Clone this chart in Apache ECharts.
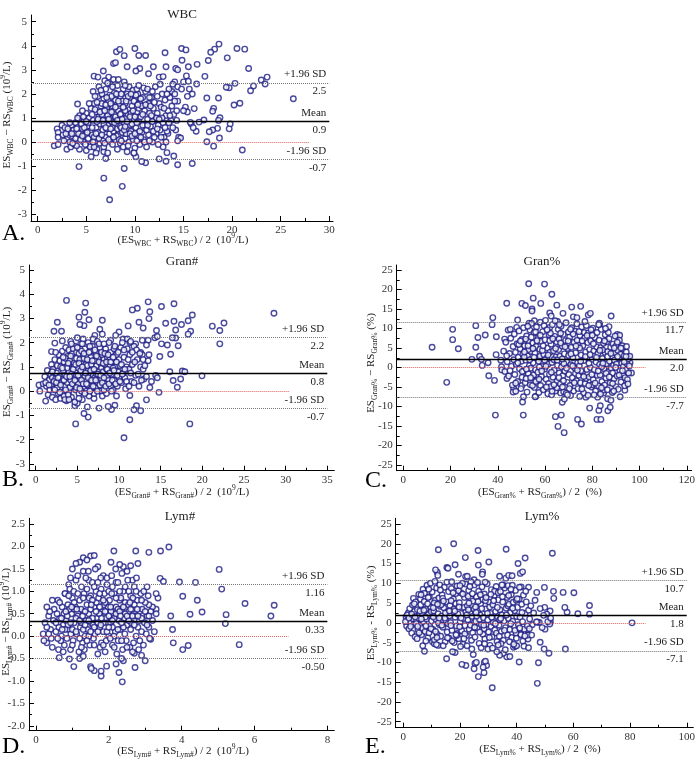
<!DOCTYPE html>
<html><head><meta charset="utf-8">
<script src="https://cdn.jsdelivr.net/npm/echarts@6/dist/echarts.min.js"></script>
<style>html,body{margin:0;padding:0;background:#fff}#c{width:698px;height:768px}</style>
</head><body><div id="c"></div>
<script>
// ---------------- DATA ----------------
// A. WBC : [mean of methods, difference]
const wbcPoints = [
[26.3,1.8],[23.6,2.7],[23.0,2.58],[23.4,2.41],[22.2,2.33],[21.9,2.13],[21.7,3.06],[21.3,3.86],[20.5,3.89],[20.3,2.44],[20.8,1.61],[20.2,1.54],[19.5,3.5],[19.7,2.26],[19.4,2.28],[18.65,4.07],[18.2,3.86],[17.8,3.73],[17.55,3.39],[16.4,3.23],[18.6,1.83],[17.4,1.83],[17.2,2.73],[16.35,2.41],[18.1,1.4],[18.0,1.28],[18.75,1.01],[18.6,0.9],[19.8,0.75],[19.7,0.55],[18.5,0.57],[18.0,0.5],[17.65,0.43],[18.7,0.17],[17.4,0.01],[18.1,-0.17],[21.05,-0.33],[17.1,0.92],[16.6,0.83],[16.3,0.45],[15.8,0.75],[16.0,0.6],[16.1,1.39],[15.7,0.82],[15.9,-0.89],[14.4,-0.94],[14.0,-0.58],[13.2,-0.8],[12.5,-0.7],[13.3,-0.44],[11.1,-0.86],[10.7,-0.81],[10.1,-0.61],[9.9,-0.45],[8.9,-1.1],[8.7,-1.84],[6.8,-1.5],[7.4,-2.4],[4.25,-1.02],[5.5,-0.61],[7.0,-0.68],[6.8,-0.4],[1.7,-0.15],[2.1,-0.1],[4.1,1.58],[2.0,0.55],[2.1,0.4],[2.1,0.2],[2.5,0.7],[3.0,-0.3],
[5.8,2.74],[6.2,2.7],[6.75,2.95],[7.3,2.7],[7.8,3.26],[8.0,3.3],[8.1,3.75],[8.45,3.85],[8.9,3.59],[9.2,3.13],[10.0,3.89],[10.4,3.6],[11.1,3.6],[10.5,3.06],[10.1,2.95],[11.4,2.84],[11.9,3.13],[13.1,3.71],[13.2,3.13],[14.2,3.06],[14.4,3.0],[14.8,3.89],[15.25,3.83],[14.85,3.4],[15.5,3.13],[15.3,2.75],[15.0,2.5],[15.5,2.53],[12.5,2.7],[12.9,2.72],[14.1,2.5],[14.4,2.3],[13.8,2.1],[14.8,2.2],[15.6,2.2],[15.9,2.0],[15.4,1.9],[15.2,1.45],[15.4,1.25],[15.0,1.3],[14.3,0.9],[14.5,0.2],[14.7,0.17],[14.4,0.05],[13.4,0.36],[12.9,-0.2],
[2.6,0.3],[2.8,0.6],[3.0,0.1],[3.2,0.45],[3.4,-0.2],[3.5,0.7],[2.9,0.35],[3.3,0.0],[3.6,0.25],[3.1,0.55],
[3.7,0.5],[3.8,-0.1],[3.9,0.8],[4.0,0.2],[4.1,0.6],[4.2,0.95],[4.3,-0.3],[4.4,0.4],[3.8,0.35],[4.0,-0.15],[4.5,0.1],[4.5,0.75],[4.3,1.1],
[4.6,0.55],[4.7,0.0],[4.8,0.9],[4.9,0.3],[5.0,1.2],[5.0,-0.35],[5.1,0.65],[5.2,0.15],[5.3,1.0],[5.4,0.45],[5.5,1.4],[5.5,-0.1],[4.8,0.6],[5.2,0.8],[4.7,1.05],[5.4,-0.2],
[5.6,0.3],[5.7,0.9],[5.8,1.6],[5.9,0.05],[6.0,1.25],[6.0,0.6],[6.1,-0.3],[6.2,1.9],[6.2,0.4],[6.3,1.05],[6.4,0.75],[6.4,-0.05],[6.5,1.5],[5.7,2.1],[5.8,0.2],[6.1,0.85],[6.3,2.3],[6.5,0.25],[5.9,1.35],[6.0,-0.45],
[6.6,1.15],[6.7,0.5],[6.8,1.8],[6.8,-0.2],[6.9,0.9],[7.0,2.2],[7.0,0.2],[7.1,1.4],[7.2,0.7],[7.2,-0.45],[7.3,1.7],[7.4,0.35],[7.4,1.0],[7.5,2.4],[6.6,1.6],[6.7,0.05],[6.9,2.55],[7.1,0.55],[7.3,1.25],[7.5,0.0],[6.8,0.75],[7.0,1.55],[7.4,1.95],[7.2,1.1],
[7.6,0.85],[7.7,1.5],[7.7,-0.1],[7.8,0.45],[7.9,2.05],[7.9,1.15],[8.0,0.1],[8.0,1.75],[8.1,0.7],[8.2,2.35],[8.2,-0.3],[8.3,1.3],[8.3,0.3],[8.4,0.95],[8.5,1.9],[8.5,-0.05],[7.6,1.9],[7.8,2.6],[8.1,0.25],[8.4,1.6],[7.7,0.6],[8.0,1.05],[8.2,0.55],[8.5,0.65],
[8.6,1.2],[8.7,0.4],[8.8,2.2],[8.8,-0.2],[8.9,0.8],[9.0,1.6],[9.0,0.15],[9.1,1.0],[9.2,2.0],[9.2,-0.4],[9.3,0.55],[9.4,1.35],[9.4,0.0],[9.5,1.85],[8.7,1.7],[8.9,2.5],[9.1,0.35],[9.3,1.15],[9.5,0.7],[8.6,0.6],[9.0,1.3],[9.4,2.3],
[9.6,0.45],[9.7,1.5],[9.8,2.15],[9.8,0.1],[9.9,0.95],[10.0,1.75],[10.0,-0.25],[10.1,0.6],[10.2,1.25],[10.3,2.0],[10.3,0.3],[10.4,0.85],[10.5,1.6],[10.5,-0.1],[9.7,0.75],[10.1,1.95],[10.4,1.4],[9.9,-0.45],[10.2,0.05],[9.6,1.2],
[10.6,1.05],[10.7,0.4],[10.8,1.85],[10.9,0.1],[11.0,1.3],[11.0,0.7],[11.1,2.1],[11.2,-0.2],[11.3,0.95],[11.4,1.6],[11.4,0.3],[11.5,1.2],[10.7,1.5],[11.2,0.5],[10.9,2.25],
[11.6,0.65],[11.7,1.85],[11.8,0.0],[11.9,1.4],[12.0,0.9],[12.1,2.3],[12.2,0.35],[12.3,1.2],[12.4,-0.1],[12.5,1.6],[11.9,0.45],[12.2,1.0],[12.4,0.7],[11.7,1.1],
[12.6,0.5],[12.7,1.45],[12.8,2.0],[12.9,0.8],[13.0,0.2],[13.1,1.75],[13.2,1.1],[13.3,0.45],[13.4,1.3],[13.5,2.2],[12.8,1.0],[13.1,0.6],
[13.6,1.85],[13.7,0.9],[13.8,1.5],[14.0,1.15],[14.1,2.0],[14.2,0.5],[14.4,1.7],[13.9,2.4],[14.3,1.3],
[3.3,0.8],[3.6,-0.05],[3.9,0.15],[4.1,1.0],[4.4,0.1],[4.6,1.3],[4.9,-0.1],[5.1,0.4],[5.3,1.6],[5.6,0.6],[5.6,1.15],[5.8,-0.2],[6.0,0.35],[6.1,1.65],[6.3,0.15],[6.4,1.25],[6.6,0.3],[6.6,2.0],[6.7,0.9],[6.9,1.3],[6.9,-0.05],[7.0,0.6],[7.1,1.85],[7.3,0.1],[7.3,0.95],[7.5,1.6],[7.5,0.55],[7.6,1.25],[7.7,2.3],[7.8,0.2],[7.9,0.8],[8.0,1.45],[8.1,2.0],[8.2,0.9],[8.3,1.7],[8.4,0.1],[8.5,1.15],[8.6,2.0],[8.6,0.05],[8.7,0.95],[8.8,1.45],[8.9,0.5],[9.0,0.65],[9.1,1.7],[9.2,0.85],[9.3,1.9],[9.3,-0.15],[9.5,1.05],[9.5,0.35],[9.6,2.0],[9.7,0.25],[9.8,1.3],[9.9,1.7],[10.0,0.35],[10.0,1.05],[10.2,2.2],[10.2,0.8],[10.3,1.55],[10.5,0.45],[10.6,1.8],[10.6,0.2],[10.8,1.15],[10.8,0.7],[11.0,0.0],[11.1,1.55],[11.3,2.2],[11.3,0.7],[11.5,0.05],[11.6,1.5],[11.8,0.85],[11.8,2.1],[12.0,0.2],[12.0,1.65],[12.3,0.55],[12.3,1.9],[12.5,0.95],[12.6,2.4],[12.7,0.2],[13.0,1.4],[13.2,0.0],[13.3,2.0],[13.5,0.8],[13.6,1.1],[13.9,0.6],[14.1,1.7],[11.5,1.85],[10.4,2.35],[9.0,2.35],[8.3,2.6],[7.2,2.45],[6.5,2.15],[5.9,1.9],[5.0,0.85],[4.2,0.35],[3.5,0.35],[2.7,0.05],[4.0,0.55],[4.6,0.25],[5.7,0.0],[6.2,0.95]
];
const wbcLimits = [2.45, 0.87, -0.71];          // +1.96 SD, mean, -1.96 SD
const wbcLimitLabels = ['2.5', '0.9', '-0.7'];
const wbcXTicks = [0, 5, 10, 15, 20, 25, 30];
const wbcYTicks = [-3, -2, -1, 0, 1, 2, 3, 4, 5];

// B. Gran#
const granAbsPoints = [
[28.6,3.21],[22.6,2.81],[21.2,2.68],[22.1,2.5],[22.1,1.95],[19.96,0.63],[18.8,3.14],[18.3,2.9],[18.6,2.47],[18.3,2.35],[17.5,2.75],[16.6,3.6],[15.1,3.49],[13.5,3.68],[13.7,3.27],[12.2,3.42],[11.6,3.35],[13.6,2.99],[11.1,2.69],[12.4,2.84],[12.9,2.6],[15.6,2.8],[16.6,2.88],[16.8,2.52],[16.8,2.19],[16.4,2.2],[17.1,1.87],[16.2,1.52],[15.8,1.9],[16.1,0.8],[17.6,0.83],[17.9,0.8],[17.4,0.5],[16.5,0.44],[17.0,0.16],[18.5,-1.35],[14.9,1.43],[14.4,0.65],[14.6,0.55],[14.8,-0.05],[13.7,0.15],[13.9,0.4],[13.3,-0.36],[12.6,-0.81],[12.1,-0.6],[11.8,-0.77],[11.3,-1.18],[11.3,-0.18],[10.6,-1.92],[9.5,-0.58],[9.1,-0.76],[8.7,-0.63],[7.6,-0.7],[7.0,-0.3],[6.3,-1.07],[6.2,-0.65],[5.8,-0.92],[4.8,-1.35],[4.7,-0.6],[5.0,-0.5],[1.2,-0.41],[0.4,0.25],[0.5,0.0],[0.9,0.3],
[3.7,3.74],[2.6,2.84],[2.2,2.47],[3.1,2.47],[2.3,1.98],[1.9,1.63],[3.2,2.07],[6.0,3.63],[5.9,3.25],[5.2,3.05],[6.4,2.94],[5.8,2.7],[5.3,2.75],[8.0,2.92],[7.7,2.55],[8.0,2.35],[7.1,2.3],[6.9,2.15],[10.0,2.44],[9.6,2.3],[9.0,2.1],[10.5,2.15],[11.0,2.15],[11.3,2.0],[12.8,2.1],[13.5,2.1],[14.3,2.2],[14.6,2.25],[15.1,1.95],[14.5,2.5],[12.0,1.95],[12.6,1.6],[13.3,1.9],[13.6,1.5],
[1.1,0.6],[1.3,0.2],[1.4,0.85],[1.5,-0.15],[1.6,0.45],[1.7,0.05],[1.8,0.7],[1.9,1.1],[2.0,-0.25],[1.2,0.35],[1.9,0.25],[2.0,0.55],
[2.1,0.9],[2.2,0.1],[2.3,1.3],[2.4,-0.35],[2.4,0.5],[2.5,0.75],[2.6,1.05],[2.7,-0.1],[2.8,0.3],[2.8,1.5],[2.9,0.6],[3.0,1.0],[3.0,-0.3],[2.2,0.4],[2.6,0.15],[2.9,1.25],
[3.1,0.4],[3.2,1.65],[3.2,-0.05],[3.3,0.85],[3.4,1.2],[3.5,0.2],[3.5,0.65],[3.6,1.8],[3.7,-0.4],[3.7,1.0],[3.8,0.35],[3.9,1.45],[4.0,0.0],[4.0,0.8],[3.3,0.5],[3.6,1.35],[3.9,0.55],[3.4,-0.2],[4.0,1.7],[3.8,0.95],
[4.1,1.25],[4.2,0.45],[4.2,2.05],[4.3,-0.25],[4.4,0.95],[4.4,1.55],[4.5,0.2],[4.6,1.15],[4.6,0.6],[4.7,1.85],[4.8,0.05],[4.8,0.85],[4.9,1.35],[5.0,0.4],[5.0,2.2],[4.3,0.7],[4.5,1.75],[4.7,-0.45],[4.9,0.65],[4.1,0.15],[4.6,1.0],[4.9,1.6],
[5.1,0.95],[5.2,1.55],[5.2,-0.1],[5.3,0.55],[5.4,1.95],[5.4,0.25],[5.5,1.2],[5.6,0.75],[5.6,-0.35],[5.7,1.45],[5.8,0.1],[5.8,0.9],[5.9,1.75],[6.0,0.45],[6.0,1.1],[5.1,0.3],[5.3,1.3],[5.5,0.0],[5.7,2.15],[5.9,0.6],[5.5,1.65],[5.8,1.35],
[6.1,1.5],[6.2,0.25],[6.3,0.85],[6.3,2.0],[6.4,-0.2],[6.5,1.2],[6.5,0.55],[6.6,1.65],[6.7,0.1],[6.8,0.9],[6.8,1.85],[6.9,0.4],[7.0,1.3],[7.0,-0.1],[6.2,1.05],[6.4,0.7],[6.6,1.4],[6.9,0.65],[6.1,0.0],[6.7,1.1],
[7.1,0.55],[7.2,1.6],[7.2,0.15],[7.3,1.05],[7.4,2.05],[7.5,0.35],[7.5,1.35],[7.6,0.8],[7.7,1.8],[7.8,0.0],[7.8,1.15],[7.9,0.5],[8.0,1.5],[8.0,-0.2],[7.3,0.7],[7.6,1.95],[7.9,0.95],[7.1,1.25],
[8.1,0.8],[8.2,1.3],[8.3,0.3],[8.4,1.75],[8.5,0.9],[8.5,-0.1],[8.6,1.4],[8.7,0.5],[8.8,2.0],[8.9,1.05],[9.0,0.2],[9.0,1.6],[8.2,0.05],[8.6,0.65],[8.9,1.3],[8.3,1.1],
[9.1,0.7],[9.2,1.2],[9.3,0.05],[9.4,1.75],[9.5,0.45],[9.6,1.0],[9.7,1.5],[9.8,0.2],[9.9,0.8],[10.0,1.3],[9.3,0.95],[9.7,-0.2],[10.0,0.55],
[10.1,1.05],[10.2,1.8],[10.3,0.35],[10.5,0.75],[10.6,1.4],[10.8,0.1],[10.9,1.0],[11.0,1.75],[10.4,2.0],[10.7,0.55],
[11.2,0.9],[11.3,1.5],[11.5,0.4],[11.6,1.1],[11.8,1.85],[12.0,0.65],[12.2,1.3],[12.4,0.2],[12.6,1.0],[12.8,1.5],[13.0,0.5],[12.1,1.7],[11.4,2.05],[12.9,0.9],
[1.6,0.25],[2.0,0.8],[2.3,0.05],[2.5,0.35],[2.7,0.55],[2.9,-0.05],[3.0,0.25],[3.2,0.95],[3.4,0.45],[3.6,0.05],[3.7,0.6],[3.9,1.15],[3.9,-0.15],[4.1,0.6],[4.2,1.45],[4.4,0.3],[4.5,0.9],[4.7,0.45],[4.8,1.1],[4.9,0.15],[5.1,0.65],[5.2,1.15],[5.3,0.1],[5.4,0.85],[5.5,0.45],[5.6,1.0],[5.7,0.3],[5.8,1.55],[5.9,-0.1],[6.0,0.75],[6.1,0.3],[6.2,1.3],[6.3,0.55],[6.4,1.6],[6.5,0.0],[6.6,0.85],[6.7,0.45],[6.8,1.25],[6.9,0.2],[7.0,0.9],[7.1,1.7],[7.2,0.45],[7.3,1.45],[7.4,0.0],[7.5,0.7],[7.6,1.2],[7.7,0.25],[7.8,0.65],[7.9,1.6],[8.0,0.35],[8.1,1.15],[8.2,0.55],[8.3,1.55],[8.4,0.2],[8.5,1.2],[8.6,0.9],[8.7,1.5],[8.8,0.3],[8.9,0.75],[9.0,1.2],[9.1,0.0],[9.2,0.45],[9.3,1.4],[9.4,0.85],[9.6,0.3],[9.7,1.2],[9.8,0.65],[9.9,1.6],[10.1,0.4],[10.3,1.1],[10.4,0.7],[10.6,1.7],[10.7,0.9],[10.9,0.4],[11.1,1.3],[11.2,0.2],[11.4,0.75],[11.6,1.6],[11.8,0.35],[11.9,1.2],[12.3,0.7],[12.5,1.55],[12.7,0.45],[12.9,1.3],[13.1,1.05],[13.3,0.6],[13.5,1.25],[2.4,1.6],[3.3,1.4],[3.5,-0.35],[4.3,1.95],[5.0,1.8],[5.6,1.95],[6.5,1.85],[8.2,1.95],[9.5,1.85],[4.0,-0.35],[5.2,-0.3]
];
const granAbsLimits = [2.21, 0.74, -0.70];
const granAbsLimitLabels = ['2.2', '0.8', '-0.7'];
const granAbsXTicks = [0, 5, 10, 15, 20, 25, 30, 35];
const granAbsYTicks = [-3, -2, -1, 0, 1, 2, 3, 4, 5];

// C. Gran%
const granPctPoints = [
[12.2,5.2],[18.4,-3.8],[20.9,9.8],[20.9,7.15],[23.3,4.8],[29.05,2.1],[30.7,10.75],[30.7,5.2],[31.6,7.7],[32.3,2.9],[33.1,2.1],[33.4,0.55],[34.7,8.33],[35.9,1.24],[36.2,-2.1],[37.9,12.8],[37.6,11.0],[38.6,-3.3],[39.4,7.9],[39.3,3.3],[39.0,-12.2],[41.3,1.9],[41.6,0.2],[41.7,-0.6],[42.9,7.3],[43.8,16.5],[44.4,9.6],[43.9,-2.8],[45.3,9.8],[46.7,-5.3],[46.5,-6.3],[47.6,-6.1],[48.4,12.2],[48.0,10.3],[50.2,16.45],[50.8,-12.2],[50.5,-8.85],[50.9,-7.5],[50.2,-4.6],[51.7,15.9],[53.1,21.5],[55.0,17.8],[54.5,15.0],[54.5,14.5],[53.3,11.4],[55.5,12.0],[56.1,-7.4],[58.2,16.45],[59.8,21.4],[62.9,18.8],[62.0,14.0],[62.6,13.2],[65.0,16.0],[65.3,11.8],[67.6,13.9],[71.3,15.5],[75.1,15.7],[72.0,13.0],[73.5,12.8],[78.3,13.5],[79.2,13.9],[88.0,13.2],[83.0,11.4],[83.1,10.9],[87.1,10.5],[90.6,8.5],[91.6,8.3],[64.4,-12.6],[65.5,-15.1],[66.9,-12.2],[68.1,-16.7],[73.8,-13.3],[75.4,-14.5],[82.0,-13.3],[83.65,-13.3],[78.9,-10.4],[82.8,-11.0],[83.4,-9.8],[86.6,-11.1],[87.6,-10.2],[86.5,-8.0],[82.3,-7.6],[84.8,-6.5],[77.3,-7.6],[67.3,-8.9],[66.6,-6.5],[68.2,-8.1],[55.8,-7.5],[96.6,-1.4],[95.0,2.7],[94.0,-4.6],[93.8,-5.8],[96.0,1.2],
[42.5,4.2],[43.0,-1.0],[43.4,6.5],[44.0,1.5],[44.6,-2.2],[45.0,3.6],[45.5,7.5],[45.8,0.3],[46.2,-4.5],[46.5,5.4],[46.8,2.0],[43.8,3.0],[45.2,-0.8],
[47.0,8.6],[47.2,-1.8],[47.5,3.9],[47.9,0.8],[48.2,6.1],[48.4,-3.6],[48.7,2.6],[49.0,9.4],[49.2,-0.3],[49.5,4.8],[49.8,-5.4],[50.0,1.6],[50.2,7.2],[47.6,-4.0],[48.9,5.9],[50.3,-2.5],
[50.6,3.4],[50.9,10.2],[51.1,-0.9],[51.4,5.6],[51.6,-3.9],[51.9,1.9],[52.2,8.1],[52.4,-6.3],[52.6,3.0],[52.9,-1.6],[53.1,6.8],[53.4,0.5],[53.6,9.6],[53.8,-4.4],[54.1,4.1],[54.3,11.3],[51.2,2.7],[52.0,-2.8],[53.0,4.6],[54.0,-0.2],[52.7,10.6],[51.8,7.3],
[54.6,-2.7],[54.8,6.3],[55.0,1.2],[55.3,8.9],[55.5,-5.1],[55.7,3.7],[56.0,-0.6],[56.2,5.4],[56.4,10.4],[56.7,-3.3],[56.9,2.2],[57.1,7.5],[57.4,-6.4],[57.6,0.1],[57.8,4.7],[58.0,11.6],[55.2,-1.9],[56.0,9.1],[57.0,-1.2],[57.9,2.9],[54.9,4.9],[58.1,-4.6],
[58.3,6.7],[58.5,-2.3],[58.8,1.6],[59.0,9.2],[59.3,-5.7],[59.5,3.3],[59.8,-0.4],[60.0,7.1],[60.2,12.1],[60.5,-3.0],[60.7,2.4],[61.0,5.0],[61.2,-6.7],[61.4,0.9],[61.7,8.4],[61.9,-1.7],[62.1,3.9],[58.9,4.4],[59.6,10.7],[60.4,0.3],[61.5,-4.1],[62.0,10.3],
[62.4,-4.9],[62.6,6.0],[62.9,1.3],[63.1,11.0],[63.4,-2.5],[63.6,4.3],[63.9,-0.7],[64.1,8.0],[64.4,-6.0],[64.6,2.7],[64.9,6.6],[65.1,-3.5],[65.3,0.6],[65.6,9.8],[65.8,4.6],[66.0,-1.4],[62.8,-7.0],[63.8,2.0],[64.3,12.0],[65.0,-5.2],[65.9,7.3],[62.3,8.8],
[66.3,2.9],[66.5,-4.2],[66.8,10.6],[67.0,0.2],[67.2,5.5],[67.5,-2.1],[67.7,8.5],[67.9,-6.2],[68.2,3.5],[68.4,-0.9],[68.7,6.9],[68.9,11.5],[69.2,1.5],[69.4,-3.8],[69.6,4.9],[69.9,9.1],[70.1,-1.8],[66.6,6.3],[67.4,-5.0],[68.0,1.0],[69.0,-6.6],[70.0,3.1],
[70.4,7.8],[70.6,-4.6],[70.9,0.7],[71.1,5.2],[71.3,10.2],[71.6,-2.6],[71.8,2.5],[72.1,-6.0],[72.3,6.5],[72.6,-0.1],[72.8,9.3],[73.0,3.8],[73.3,-3.4],[73.5,11.2],[73.8,1.2],[74.0,-5.4],[74.2,5.8],[70.8,-7.2],[71.9,8.6],[72.9,-1.5],[73.6,7.0],[74.3,-2.0],
[74.5,0.4],[74.8,8.2],[75.0,-3.9],[75.3,3.2],[75.5,10.4],[75.8,-1.2],[76.0,5.6],[76.3,-6.5],[76.5,1.8],[76.8,7.6],[77.0,-4.1],[77.2,4.0],[77.5,10.8],[77.7,-0.5],[78.0,2.6],[78.2,-7.1],[74.7,5.0],[75.6,-5.5],[76.6,9.0],[77.4,-2.8],[78.1,6.4],[75.2,-0.8],
[78.4,8.9],[78.7,-2.4],[78.9,4.6],[79.2,0.0],[79.4,6.9],[79.7,-5.0],[79.9,2.1],[80.2,10.1],[80.4,-3.1],[80.6,4.2],[80.9,-0.6],[81.1,7.7],[81.4,-6.0],[81.6,1.4],[81.9,5.3],[82.1,-2.0],[78.6,1.1],[79.5,9.7],[80.0,-4.4],[81.0,3.0],[82.0,9.0],[80.8,-7.0],
[82.4,3.6],[82.6,-4.7],[82.9,7.0],[83.1,0.8],[83.3,-1.9],[83.6,5.1],[83.8,9.8],[84.1,-3.6],[84.3,2.3],[84.6,-5.8],[84.8,6.2],[85.0,-0.3],[85.3,3.9],[85.5,8.4],[85.8,-2.7],[86.0,1.0],[82.7,11.0],[83.5,-6.8],[84.4,4.5],[85.2,-4.5],[86.1,6.6],[84.0,0.2],
[86.4,-5.7],[86.6,4.1],[86.9,-1.0],[87.1,7.4],[87.3,1.6],[87.6,-3.9],[87.8,5.2],[88.0,-0.2],[88.3,2.9],[88.5,-6.4],[88.8,6.0],[89.0,0.6],[89.2,-2.9],[89.5,3.8],[89.7,8.1],[90.0,-4.9],[86.8,9.0],[87.9,-8.4],[88.6,-1.4],[89.4,1.9],[90.0,5.5],
[90.3,0.9],[90.5,-2.2],[90.8,4.4],[91.0,-5.6],[91.3,2.5],[91.5,7.0],[91.7,-0.8],[92.0,3.4],[92.2,-3.7],[92.5,1.1],[92.7,5.6],[93.0,-1.9],[93.2,0.3],[93.5,3.0],[93.7,-4.7],[94.0,1.7],[90.6,6.5],[91.8,-7.5],[92.9,4.8],[93.9,-2.6],
[94.2,-0.6],[94.4,4.0],[94.7,1.0],[94.9,-3.1],[95.2,2.2],[95.4,-1.4],[95.7,0.4],[95.9,2.9],[94.5,5.4],[95.1,-4.2],
[48.5,1.2],[49.6,6.8],[50.4,-1.0],[51.3,4.0],[52.1,-0.4],[52.8,5.6],[53.5,2.0],[54.2,7.8],[54.7,-4.6],[55.4,2.6],[56.1,-3.6],[56.6,6.9],[57.3,1.6],[58.0,8.3],[58.6,-0.9],[59.2,5.6],[59.9,1.9],[60.6,-5.0],[61.3,3.2],[62.0,6.9],[62.7,-1.2],[63.3,7.4],[63.8,-4.4],[64.5,4.9],[65.2,1.9],[65.9,-2.6],[66.6,8.8],[67.3,2.2],[67.8,-3.4],[68.5,5.3],[69.1,-0.2],[69.8,6.8],[70.3,-5.4],[71.0,3.5],[71.7,0.4],[72.4,-3.9],[73.1,5.5],[73.7,-0.7],[74.4,9.2],[75.1,1.6],[75.7,6.8],[76.4,-2.3],[77.1,2.8],[77.8,8.2],[78.5,-4.6],[79.1,3.3],[79.8,-1.8],[80.5,6.1],[81.2,-4.0],[81.8,2.6],[82.5,-0.9],[83.2,4.4],[83.9,-5.2],[84.5,1.1],[85.2,6.8],[85.9,-1.5],[86.5,2.8],[87.2,-2.4],[87.9,3.6],[88.6,-4.1],[89.3,5.0],[89.9,0.0],[90.7,2.8],[91.4,-1.9],[92.1,5.0],[92.8,-0.8],[93.5,1.5],[94.3,2.8],[60.9,9.7],[66.1,11.0],[70.8,9.8],[76.9,11.8],[63.0,-6.1],[69.5,-7.0],[74.7,-7.4],[80.0,8.3],[57.5,-3.0],[53.9,-2.6],[85.6,10.0],[89.1,-6.0]
];
const granPctLimits = [11.7, 2.0, -7.7];
const granPctLimitLabels = ['11.7', '2.0', '-7.7'];
const granPctXTicks = [0, 20, 40, 60, 80, 100, 120];
const granPctYTicks = [-25, -20, -15, -10, -5, 0, 5, 10, 15, 20, 25];

// D. Lym#
const lymAbsPoints = [
[6.54,0.69],[6.45,0.45],[5.74,0.73],[5.58,-0.19],[5.22,0.48],[5.2,0.28],[5.1,1.05],[5.03,1.49],[4.56,0.54],[4.43,0.8],[4.38,1.2],[4.23,0.49],[4.18,-0.21],[4.03,0.89],[4.03,-0.3],[3.94,1.21],[3.77,-0.15],[3.75,0.15],[3.7,0.45],[3.65,1.99],[3.42,1.9],[3.41,1.29],[3.5,1.22],[3.1,1.87],[2.74,1.9],[2.14,1.9],[2.8,1.62],[2.6,1.57],[2.4,1.55],[2.3,1.6],[2.06,1.65],[1.5,1.79],[1.3,1.75],[1.6,1.8],[1.4,1.7],[1.2,1.65],[1.1,1.62],[1.3,1.45],[1.0,1.5],[3.0,-0.55],[2.9,-0.43],[2.72,-0.7],[2.7,-0.38],[2.37,-1.02],[2.28,-0.81],[2.2,-0.62],[2.4,-0.55],[2.35,-0.5],[1.94,-0.67],[1.79,-0.89],[1.79,-0.78],[1.6,-0.77],[1.5,-0.68],[1.52,-0.72],[1.04,-0.68],[0.92,-0.51],[0.64,-0.48],[1.2,-0.5],[1.3,-0.45],[0.9,1.15],[0.8,0.95],[3.3,0.6],[3.2,0.65],[3.35,0.85],[3.3,0.95],[3.1,0.7],[3.15,-0.07],
[1.7,1.55],[1.85,1.35],[2.5,1.45],[2.65,1.25],[1.95,1.3],[2.2,1.2],[1.45,1.25],[0.95,1.3],
[0.2,0.05],[0.25,0.3],[0.3,-0.15],[0.35,0.45],[0.4,0.15],[0.45,-0.25],[0.5,0.6],[0.3,0.2],[0.42,-0.05],[0.48,0.35],[0.22,-0.1],[0.38,0.55],
[0.55,0.1],[0.6,0.8],[0.62,-0.3],[0.65,0.4],[0.7,0.0],[0.72,0.65],[0.75,0.25],[0.78,-0.2],[0.8,0.95],[0.58,0.5],[0.68,-0.1],[0.77,0.5],[0.63,0.2],
[0.83,0.35],[0.85,-0.05],[0.88,0.7],[0.9,0.15],[0.93,1.05],[0.95,-0.3],[0.98,0.5],[1.0,0.85],[1.02,-0.1],[1.05,0.3],[1.08,0.65],[1.1,1.25],[0.86,0.45],[0.96,0.05],[1.04,1.0],[0.92,0.6],
[1.12,0.05],[1.15,0.45],[1.18,-0.35],[1.2,0.8],[1.22,0.2],[1.25,1.1],[1.28,-0.15],[1.3,0.55],[1.32,0.95],[1.35,0.0],[1.38,0.35],[1.4,0.7],[1.15,1.35],[1.24,0.6],[1.33,-0.3],[1.37,1.3],[1.2,-0.05],
[1.42,0.15],[1.45,0.5],[1.48,-0.2],[1.5,0.9],[1.52,0.3],[1.55,1.2],[1.58,-0.05],[1.6,0.65],[1.62,0.05],[1.65,1.0],[1.68,0.4],[1.7,-0.4],[1.44,1.45],[1.5,0.6],[1.57,0.25],[1.63,1.5],[1.66,0.75],[1.46,0.85],
[1.72,0.85],[1.75,0.2],[1.78,1.3],[1.8,-0.15],[1.82,0.55],[1.85,0.1],[1.88,0.95],[1.9,-0.35],[1.92,0.4],[1.95,1.15],[1.98,0.65],[2.0,0.0],[1.74,0.5],[1.79,1.05],[1.86,0.7],[1.93,-0.1],[1.97,0.3],[1.76,-0.25],
[2.02,0.8],[2.05,0.3],[2.08,1.35],[2.1,-0.2],[2.12,0.5],[2.15,0.95],[2.18,0.1],[2.2,0.65],[2.22,-0.4],[2.25,1.2],[2.28,0.35],[2.3,0.8],[2.06,0.55],[2.14,0.0],[2.19,1.5],[2.26,-0.1],[2.04,-0.05],
[2.32,0.15],[2.35,0.6],[2.38,-0.3],[2.4,1.0],[2.42,0.4],[2.45,0.75],[2.48,-0.1],[2.5,0.25],[2.52,1.25],[2.55,0.55],[2.58,-0.25],[2.6,0.9],[2.36,1.4],[2.44,0.05],[2.54,0.7],[2.33,0.85],
[2.62,0.3],[2.65,0.6],[2.68,-0.15],[2.7,1.1],[2.72,0.45],[2.75,0.0],[2.78,0.8],[2.8,0.2],[2.82,-0.3],[2.85,0.55],[2.88,0.95],[2.9,0.1],[2.66,0.85],[2.76,1.3],[2.84,0.35],
[2.92,0.6],[2.95,-0.2],[2.98,0.3],[3.0,0.75],[3.03,0.05],[3.05,0.45],[3.08,0.9],[3.1,0.2],[3.15,0.55],[3.2,0.35],[3.25,0.1],[3.3,0.5],[2.96,1.0],[3.12,-0.05],
[0.35,0.05],[0.55,0.3],[0.7,0.4],[0.88,0.25],[1.0,0.15],[1.1,0.4],[1.25,0.3],[1.45,0.0],[1.55,0.4],[1.7,0.3],[1.85,0.3],[2.0,0.45],[2.1,0.2],[2.25,0.6],[2.4,0.2],[2.55,0.35],[2.7,0.25],[2.9,0.4],[1.35,0.55],[1.6,0.2],[1.9,0.75],[2.15,0.4],[2.45,0.5],[0.8,0.15],[1.05,0.6],[1.3,0.15],[1.75,0.65],[2.35,0.3],[2.65,0.45],[3.05,0.25],
[0.3,0.65],[0.45,0.8],[0.6,-0.05],[0.65,0.75],[0.75,-0.35],[0.82,0.55],[0.9,0.9],[0.95,0.3],[1.0,-0.2],[1.05,0.75],[1.1,0.1],[1.15,0.95],[1.2,0.35],[1.25,-0.25],[1.3,0.85],[1.35,0.25],[1.4,1.05],[1.4,-0.1],[1.45,0.35],[1.5,0.1],[1.55,0.8],[1.6,1.1],[1.6,-0.2],[1.65,0.55],[1.7,1.2],[1.7,0.1],[1.75,0.95],[1.8,0.4],[1.85,0.8],[1.85,-0.2],[1.9,0.55],[1.95,0.1],[2.0,1.0],[2.0,0.2],[2.05,0.65],[2.1,1.1],[2.1,0.35],[2.15,-0.25],[2.2,0.85],[2.2,0.5],[2.25,0.15],[2.3,1.0],[2.3,0.55],[2.35,-0.1],[2.4,0.65],[2.45,1.1],[2.5,-0.25],[2.5,0.45],[2.55,1.0],[2.6,0.15],[2.6,0.6],[2.65,-0.35],[2.7,0.7],[2.75,1.0],[2.8,0.45],[2.85,-0.1],[2.9,0.8],[3.0,0.55],[3.05,1.1],[3.1,0.45],[1.12,0.6],[1.28,0.45],[1.52,0.7],[1.78,0.25],[2.08,0.95],[2.32,0.45],[2.58,0.75],[2.78,0.6],[0.98,0.65],[0.72,0.15]
];
const lymAbsLimits = [1.16, 0.33, -0.50];
const lymAbsLimitLabels = ['1.16', '0.33', '-0.50'];
const lymAbsXTicks = [0, 2, 4, 6, 8];
const lymAbsYTicks = [-2.0, -1.5, -1.0, -0.5, 0.0, 0.5, 1.0, 1.5, 2.0, 2.5];

// E. Lym%
const lymPctPoints = [
[80.7,0.0],[65.7,4.4],[65.7,2.2],[61.6,2.3],[60.2,7.6],[57.8,2.66],[57.0,3.9],[56.4,7.7],[57.2,-6.6],[52.6,17.6],[53.0,7.97],[53.1,6.2],[51.8,3.0],[51.9,0.2],[51.7,-0.3],[51.4,-7.7],[49.8,8.97],[49.9,3.9],[50.6,2.2],[49.7,-6.6],[50.0,-1.6],[48.3,-4.9],[47.7,-10.1],[47.3,-15.3],[47.1,7.7],[46.5,5.7],[48.0,0.1],[47.3,0.2],[43.0,16.4],[40.5,15.0],[41.3,12.5],[42.1,12.9],[44.2,9.0],[41.6,9.1],[36.3,18.6],[36.2,11.3],[37.2,12.0],[38.4,11.9],[30.2,15.4],[26.4,18.3],[26.5,14.6],[28.0,12.9],[27.9,12.3],[21.9,16.5],[22.0,11.7],[22.6,11.8],[17.8,20.0],[18.3,14.7],[15.4,14.0],[15.8,13.8],[12.4,18.5],[12.0,12.8],[11.4,13.4],[12.2,12.0],[19.5,12.3],[25.0,10.9],[34.0,11.8],
[31.4,-16.4],[26.5,-13.6],[22.1,-10.8],[20.7,-10.5],[25.3,-10.3],[25.8,-10.0],[25.0,-11.6],[28.5,-12.6],[28.6,-10.0],[29.4,-10.8],[28.2,-11.2],[29.0,-9.7],[24.7,-8.0],[15.3,-9.1],[18.3,-7.5],[17.4,-7.3],[7.5,-7.2],[6.9,-5.8],[10.3,-4.8],[11.0,-5.3],[12.3,-5.7],[40.9,-9.9],[36.5,-8.6],[35.3,-7.7],[37.6,-8.5],[38.9,-6.2],[39.5,-5.9],[40.0,-5.8],[42.6,-5.9],[44.2,-6.3],[44.0,-4.1],[44.0,-3.1],[45.3,-3.1],[43.7,-1.7],[41.5,-2.8],[34.0,-8.2],[33.0,-7.3],
[45.5,-0.5],[46.0,2.5],[47.0,0.2],[48.3,3.6],[49.0,-1.2],[49.5,1.9],[51.0,0.3],[52.0,1.2],
[1.0,1.5],[1.2,-0.8],[1.5,0.5],[1.8,2.5],[2.0,-1.5],[2.3,3.6],[2.5,0.0],[2.8,1.8],[3.0,-2.6],[3.3,4.5],[3.5,1.0],[3.8,-0.4],[4.0,2.9],[1.4,2.0],[2.6,-0.9],[3.6,6.2],[0.8,0.3],
[4.2,-3.5],[4.4,5.3],[4.7,0.7],[5.0,3.3],[5.2,-1.8],[5.5,7.2],[5.7,1.9],[6.0,-0.6],[6.2,4.6],[6.5,-3.0],[6.7,2.4],[7.0,8.5],[4.6,-0.2],[5.4,1.2],[6.1,6.0],[6.8,-1.4],[5.9,3.0],[4.9,-4.0],
[7.2,0.2],[7.4,5.4],[7.7,-2.2],[7.9,3.5],[8.2,1.0],[8.4,9.5],[8.7,-3.8],[8.9,2.1],[9.2,6.6],[9.4,-0.9],[9.7,4.0],[10.0,0.5],[7.5,7.5],[8.0,-4.6],[8.6,4.8],[9.1,-2.5],[9.6,10.0],[9.9,2.8],[7.8,1.5],
[10.2,7.8],[10.5,-1.7],[10.8,3.0],[11.0,-4.3],[11.3,5.7],[11.5,0.9],[11.8,8.8],[12.0,-2.9],[12.3,2.3],[12.6,6.3],[12.8,-0.5],[13.0,4.2],[10.6,1.5],[11.2,10.5],[11.7,-5.5],[12.4,0.0],[12.9,9.6],[10.9,5.0],
[13.2,-3.4],[13.5,1.7],[13.7,7.1],[14.0,-1.1],[14.3,3.8],[14.5,9.0],[14.8,-4.8],[15.0,0.6],[15.3,5.3],[15.5,-2.3],[15.8,2.8],[16.0,7.9],[13.4,4.6],[14.1,-5.8],[14.7,1.2],[15.4,10.3],[15.9,-0.2],[13.9,6.2],
[16.2,-3.9],[16.5,4.4],[16.7,0.1],[17.0,8.7],[17.2,-1.9],[17.5,2.6],[17.7,6.0],[18.0,-5.0],[18.3,1.4],[18.5,4.9],[18.8,-0.8],[19.0,9.3],[16.4,1.8],[17.3,-4.6],[17.8,3.4],[18.6,7.4],[19.1,-2.7],[16.9,5.6],
[19.3,2.2],[19.6,-4.0],[19.8,5.1],[20.1,0.3],[20.3,7.6],[20.6,-2.0],[20.8,3.7],[21.1,-5.4],[21.3,1.1],[21.6,6.4],[21.8,-0.7],[22.0,9.8],[19.5,8.1],[20.2,-6.0],[20.9,10.0],[21.5,3.9],[22.1,2.7],[19.9,-1.0],
[22.3,-3.2],[22.6,4.3],[22.8,0.8],[23.1,8.2],[23.3,-1.6],[23.6,2.5],[23.8,6.1],[24.1,-4.4],[24.3,1.6],[24.6,5.5],[24.8,-0.1],[25.1,9.6],[22.5,-5.8],[23.0,3.3],[23.9,10.4],[24.5,-2.5],[25.0,3.5],[22.9,6.7],
[25.3,-3.6],[25.6,0.4],[25.8,6.6],[26.1,-1.3],[26.3,3.1],[26.6,8.0],[26.8,-5.2],[27.1,2.0],[27.3,4.8],[27.6,-0.5],[27.8,9.1],[28.1,-2.9],[25.5,4.0],[26.2,10.2],[26.9,0.9],[27.5,-6.3],[28.0,5.9],[25.9,1.7],
[28.3,1.3],[28.6,7.3],[28.8,-4.1],[29.1,3.5],[29.3,-0.4],[29.6,9.9],[29.8,0.7],[30.1,-2.3],[30.3,5.2],[30.6,-5.7],[30.8,2.4],[31.1,8.4],[28.5,-1.5],[29.0,5.6],[29.9,-6.6],[30.5,4.0],[31.0,-0.9],[28.9,10.3],
[31.3,-3.5],[31.6,4.6],[31.8,0.1],[32.1,6.9],[32.3,-1.8],[32.6,2.9],[32.8,9.2],[33.1,-4.7],[33.3,1.5],[33.6,5.8],[33.8,-0.6],[34.1,3.3],[31.5,-6.4],[32.2,8.0],[32.9,-2.6],[33.5,7.6],[34.0,0.8],
[34.3,7.9],[34.6,-2.2],[34.8,2.0],[35.1,5.3],[35.3,-4.4],[35.6,0.5],[35.8,8.8],[36.1,-1.2],[36.3,3.7],[36.6,6.4],[36.8,-3.1],[37.1,1.1],[34.5,-5.3],[35.2,9.6],[36.0,-6.8],[36.9,4.3],[37.0,9.4],
[37.3,4.7],[37.6,-1.7],[37.8,2.6],[38.1,7.1],[38.3,-3.7],[38.6,0.4],[38.8,5.2],[39.1,-0.8],[39.3,3.1],[39.6,8.2],[39.8,-2.6],[40.0,1.6],[37.5,-4.8],[38.5,9.5],[39.0,-5.4],[39.9,5.7],
[40.3,3.9],[40.6,-0.5],[40.9,6.0],[41.2,1.4],[41.5,-3.0],[41.8,4.7],[42.1,0.3],[42.4,7.0],[42.7,-1.6],[43.0,2.4],[43.4,5.3],[43.8,-0.8],[44.2,3.2],[44.6,1.0],[45.0,4.3],[41.0,9.0],[42.2,-4.6],[43.2,8.0],
[2.0,1.2],[3.0,2.2],[4.2,1.5],[5.1,-0.9],[6.4,1.0],[7.3,3.2],[8.0,-0.8],[8.8,6.4],[9.8,-1.5],[10.6,3.8],[11.4,-2.2],[12.1,4.7],[12.7,1.2],[13.6,-0.6],[14.2,5.5],[14.9,2.5],[15.6,-3.8],[16.3,3.0],[16.8,-0.7],[17.6,7.6],[18.2,3.0],[18.9,-3.2],[19.7,4.0],[20.4,1.2],[21.0,7.3],[21.7,-2.8],[22.4,2.0],[23.2,5.0],[23.7,-0.6],[24.4,7.4],[25.2,-1.1],[25.7,2.6],[26.4,5.4],[27.0,-2.3],[27.7,3.6],[28.4,-0.6],[29.2,6.4],[29.7,2.4],[30.4,-3.7],[31.2,1.4],[31.9,5.6],[32.5,-0.2],[33.2,3.9],[33.9,-3.4],[34.4,1.1],[35.0,6.6],[35.7,-1.9],[36.4,2.0],[37.2,6.9],[37.9,-0.2],[38.6,3.7],[39.4,-1.9],[40.2,6.1],[41.1,-1.3],[41.9,2.6],[42.9,-3.3],[44.5,-1.5],[3.9,4.8],[6.3,7.1],[9.0,8.5],[13.1,8.3],[17.1,10.4],[20.0,9.4],[23.5,9.2],[27.2,7.1],[30.9,7.2],[34.8,9.6],[38.0,8.5],[11.9,-3.7],[18.6,-3.0],[24.2,-6.6],[28.7,-5.3],[33.5,-5.6],[39.9,-3.9],[21.4,-4.0],[5.6,-2.5]
];
const lymPctLimits = [10.7, 1.8, -7.1];
const lymPctLimitLabels = ['10.7', '1.8', '-7.1'];
const lymPctXTicks = [0, 20, 40, 60, 80, 100];
const lymPctYTicks = [-25, -20, -15, -10, -5, 0, 5, 10, 15, 20, 25];

const limitNames = ['+1.96 SD', 'Mean', '-1.96 SD'];

// ---------------- LAYOUT ----------------
const SERIF = '"Liberation Serif", "DejaVu Serif", serif';
const panels = [
  { letter:'A.', title:'WBC', sub:'WBC', unit:'(10{p|9}/L)', yDash:'−',
    points:wbcPoints, limits:wbcLimits, labels:wbcLimitLabels, xTicks:wbcXTicks, yTicks:wbcYTicks, zeroEnd:28, yDec:0,
    grid:{left:31, top:15, width:302, height:206}, xExt:[-0.69,30.38], yExt:[-3.28,5.28],
    titlePos:[182,15], letterPos:[2,234], xNamePos:[183,240], yNamePos:[7,115] },
  { letter:'B.', title:'Gran#', sub:'Gran#', unit:'(10{p|9}/L)', yDash:'−',
    points:granAbsPoints, limits:granAbsLimits, labels:granAbsLimitLabels, xTicks:granAbsXTicks, yTicks:granAbsYTicks, zeroEnd:30.5, yDec:0,
    grid:{left:29, top:265, width:305.3, height:205.7}, xExt:[-0.8,35.84], yExt:[-3.28,5.2],
    titlePos:[182,262], letterPos:[2,480], xNamePos:[182,492], yNamePos:[7,362] },
  { letter:'C.', title:'Gran%', sub:'Gran%', unit:'(%)', yDash:'−',
    points:granPctPoints, limits:granPctLimits, labels:granPctLimitLabels, xTicks:granPctXTicks, yTicks:granPctYTicks, zeroEnd:102.6, yDec:0,
    grid:{left:396.7, top:265, width:296.6, height:205.7}, xExt:[-2.78,122.1], yExt:[-26.46,26.3],
    titlePos:[542,262], letterPos:[365,481], xNamePos:[540,492], yNamePos:[371,363] },
  { letter:'D.', title:'Lym#', sub:'Lym#', unit:'(10{p|9}/L)', yDash:'−',
    points:lymAbsPoints, limits:lymAbsLimits, labels:lymAbsLimitLabels, xTicks:lymAbsXTicks, yTicks:lymAbsYTicks, zeroEnd:6.93, yDec:1,
    grid:{left:29, top:518.3, width:305.3, height:212.4}, xExt:[-0.19,8.19], yExt:[-2.11,2.63],
    titlePos:[180,517], letterPos:[2,747], xNamePos:[183,751], yNamePos:[6,622] },
  { letter:'E.', title:'Lym%', sub:'Lym%', unit:'(%)', yDash:'-',
    points:lymPctPoints, limits:lymPctLimits, labels:lymPctLimitLabels, xTicks:lymPctXTicks, yTicks:lymPctYTicks, zeroEnd:85.5, yDec:0,
    grid:{left:395.7, top:518.3, width:301, height:209.4}, xExt:[-2.65,102.3], yExt:[-26.52,26.44],
    titlePos:[542,517], letterPos:[365,747], xNamePos:[540,749], yNamePos:[371,613] }
];

function mids(t){ const r=[]; for(let i=0;i<t.length-1;i++) r.push((t[i]+t[i+1])/2); return r; }

const grids=[], xAxes=[], yAxes=[], series=[], graphics=[];
const labelStyle = {fontFamily:SERIF, fontSize:11, color:'#333'};
const richSub = {
  s:{fontFamily:SERIF, fontSize:7.5, lineHeight:8, verticalAlign:'bottom', fill:'#222'},
  p:{fontFamily:SERIF, fontSize:7.5, lineHeight:8, verticalAlign:'top', fill:'#222'}
};

panels.forEach((p,i)=>{
  grids.push(Object.assign({containLabel:false}, p.grid));
  const xMain = {type:'value', gridIndex:i, position:'bottom', min:p.xExt[0], max:p.xExt[1],
    axisLine:{show:true, onZero:false, lineStyle:{color:'#000', width:1}},
    axisTick:{show:true, inside:true, length:5, customValues:p.xTicks, lineStyle:{color:'#000'}},
    axisLabel:Object.assign({show:true, customValues:p.xTicks, margin:4, formatter:v=>String(Math.round(v))}, labelStyle),
    splitLine:{show:false}};
  const xMinor = {type:'value', gridIndex:i, position:'bottom', min:p.xExt[0], max:p.xExt[1],
    axisLine:{show:false, onZero:false}, axisTick:{show:true, inside:true, length:3, customValues:mids(p.xTicks), lineStyle:{color:'#000'}},
    axisLabel:{show:false}, splitLine:{show:false}};
  const yMain = {type:'value', gridIndex:i, position:'left', min:p.yExt[0], max:p.yExt[1],
    axisLine:{show:true, onZero:false, lineStyle:{color:'#000', width:1}},
    axisTick:{show:true, inside:true, length:5, customValues:p.yTicks, lineStyle:{color:'#000'}},
    axisLabel:Object.assign({show:true, customValues:p.yTicks, margin:4, formatter:v=>v.toFixed(p.yDec)}, labelStyle),
    splitLine:{show:false}};
  const yMinor = {type:'value', gridIndex:i, position:'left', min:p.yExt[0], max:p.yExt[1],
    axisLine:{show:false, onZero:false}, axisTick:{show:true, inside:true, length:3, customValues:mids(p.yTicks), lineStyle:{color:'#000'}},
    axisLabel:{show:false}, splitLine:{show:false}};
  xAxes.push(xMain, xMinor); yAxes.push(yMain, yMinor);

  const x0 = p.xExt[0], xEnd = p.xTicks[p.xTicks.length-1];
  const sdStyle = {color:'#777', width:1, type:'dotted'};
  const meanStyle = {color:'#000', width:1.4, type:'solid'};
  const hidden = {color:'rgba(0,0,0,0)', width:1, type:'solid'};
  const styles = [sdStyle, meanStyle, sdStyle];
  const mlData = [];
  p.limits.forEach((v,k)=>{
    mlData.push([{coord:[x0,v], lineStyle:styles[k], label:{position:'insideEndTop', formatter:limitNames[k]}}, {coord:[xEnd,v]}]);
    mlData.push([{coord:[x0,v], lineStyle:hidden, label:{position:'insideEndBottom', formatter:p.labels[k]}}, {coord:[xEnd,v]}]);
  });
  mlData.push([{coord:[0,0], lineStyle:{color:'#e06060', width:1, type:'dotted'}, label:{show:false}}, {coord:[p.zeroEnd,0]}]);

  series.push({type:'scatter', xAxisIndex:2*i, yAxisIndex:2*i, data:p.points, symbol:'circle', symbolSize:5.5,
    itemStyle:{color:'#ffffff', borderColor:'#1c1c84', borderWidth:1.4}, silent:true,
    markLine:{silent:true, symbol:['none','none'], animation:false,
      label:{show:true, fontFamily:SERIF, fontSize:11, color:'#222', distance:3},
      data:mlData}
  });

  graphics.push({type:'text', x:p.titlePos[0], y:p.titlePos[1], silent:true,
    style:{text:p.title, fill:'#222', fontFamily:SERIF, fontSize:13, align:'center', verticalAlign:'middle'}});
  graphics.push({type:'text', x:p.letterPos[0], y:p.letterPos[1], silent:true,
    style:{text:p.letter, fill:'#000', fontFamily:SERIF, fontSize:24, align:'left', verticalAlign:'middle'}});
  graphics.push({type:'text', x:p.xNamePos[0], y:p.xNamePos[1], silent:true,
    style:{text:'(ES{s|'+p.sub+'} + RS{s|'+p.sub+'}) / 2  '+p.unit, rich:richSub, fill:'#222', fontFamily:SERIF, fontSize:11, lineHeight:16, align:'center', verticalAlign:'middle'}});
  graphics.push({type:'text', x:p.yNamePos[0], y:p.yNamePos[1], rotation:Math.PI/2, silent:true,
    style:{text:'ES{s|'+p.sub+'} '+p.yDash+' RS{s|'+p.sub+'} '+p.unit, rich:richSub, fill:'#222', fontFamily:SERIF, fontSize:11, lineHeight:16, align:'center', verticalAlign:'middle'}});
});

const chart = echarts.init(document.getElementById('c'), null, {renderer:'canvas'});
chart.setOption({animation:false, backgroundColor:'#fff', grid:grids, xAxis:xAxes, yAxis:yAxes, series:series, graphic:graphics});
</script>
</body></html>
